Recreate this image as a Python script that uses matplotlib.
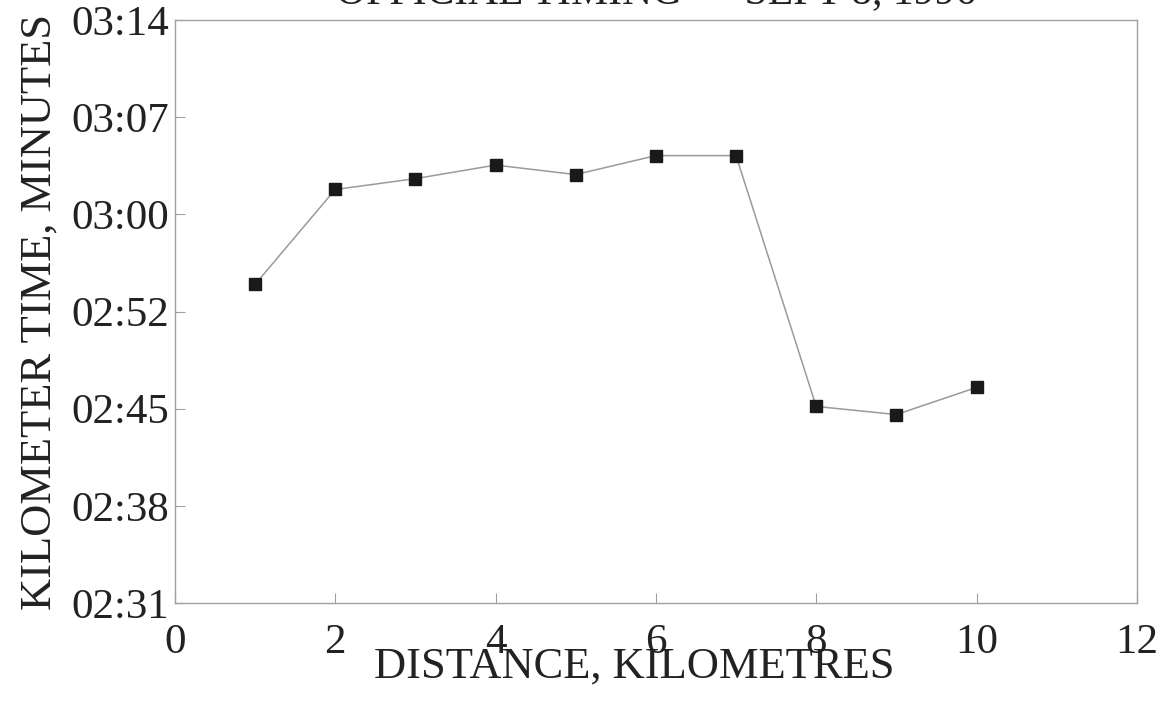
import matplotlib
matplotlib.use("Agg")
import matplotlib.pyplot as plt
from matplotlib.ticker import FuncFormatter
import numpy as np

# kilometre split times (seconds)
distance_km = [1, 2, 3, 4, 5, 6, 7, 8, 9, 10]
split_seconds = [174.5, 181.5, 182.3, 183.3, 182.6, 184.0, 184.0, 165.5, 164.9, 166.9]

title = "OFFICIAL TIMING \u2014 SEPT 8, 1996"
x_label = "DISTANCE, KILOMETRES"
y_label = "KILOMETER TIME, MINUTES"
y_min, y_max = 151, 194
x_ticks = [0, 2, 4, 6, 8, 10, 12]


def mmss(v, pos=None):
    s = round(v)
    return f"{s // 60:02d}:{s % 60:02d}"


plt.rcParams["font.family"] = ["Liberation Serif", "DejaVu Serif"]

fig = plt.figure(figsize=(11.66, 7.02), dpi=100)
ax = fig.add_axes([0.150, 0.141, 0.825, 0.8305])

ax.plot(distance_km, split_seconds, color="#9a9a9a", lw=1.1, zorder=2)
ax.plot(distance_km, split_seconds, ls="none", marker="s", ms=8.5,
        color="#1a1a1a", zorder=3)

ax.set_xlim(0, 12)
ax.set_ylim(y_min, y_max)
ax.set_xticks(x_ticks)
ax.set_yticks(np.linspace(y_min, y_max, 7))
ax.yaxis.set_major_formatter(FuncFormatter(mmss))

for sp in ax.spines.values():
    sp.set_color("#a0a0a0")
    sp.set_linewidth(1.0)

ax.tick_params(axis="both", direction="in", colors="#a0a0a0", length=7,
               labelcolor="#222222", labelsize=31)
ax.tick_params(axis="x", pad=15)
ax.tick_params(axis="y", pad=4)

ax.set_xlabel(x_label, fontsize=32, color="#222222", labelpad=-10)
ax.xaxis.set_label_coords(0.478, -0.075)
ax.set_ylabel(y_label, fontsize=32, color="#222222", labelpad=9)

fig.text(0.5625, 1 - 3 / 702, title, ha="center", va="baseline",
         fontsize=30, color="#222222")

fig.savefig("out.png", dpi=100, facecolor="white")
